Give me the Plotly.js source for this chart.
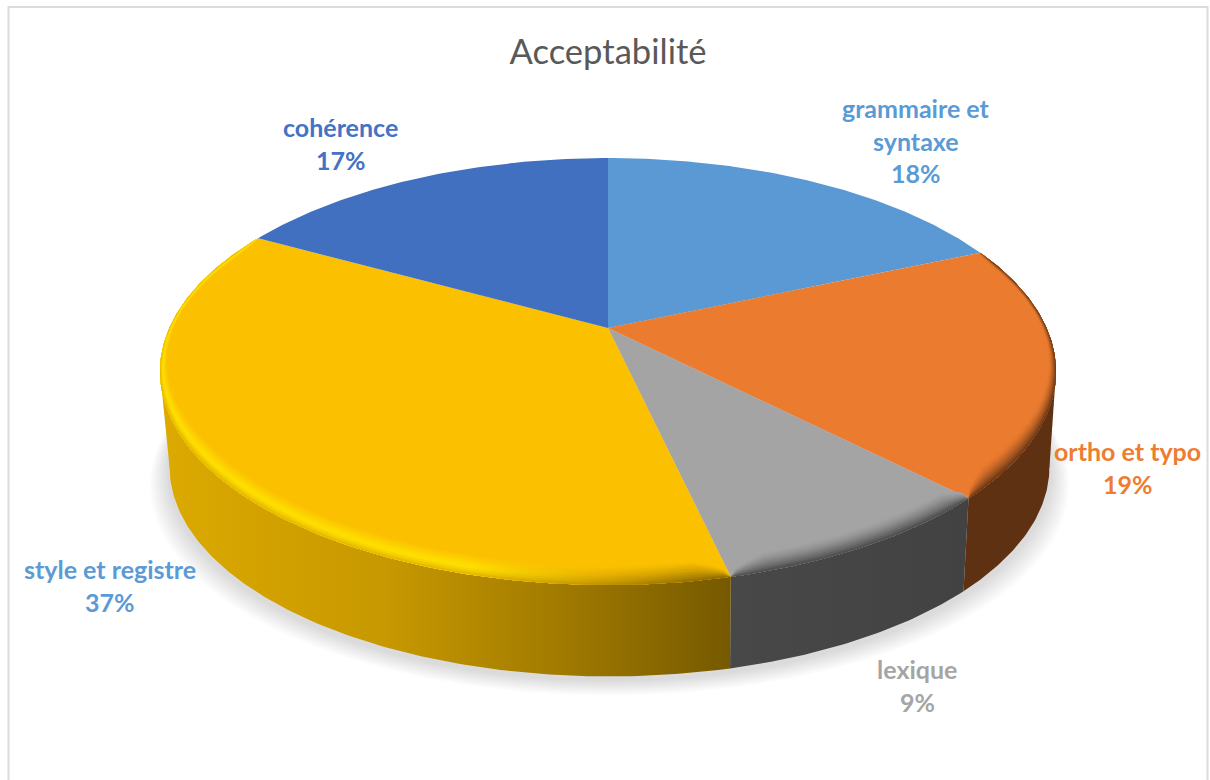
<!DOCTYPE html>
<html><head><meta charset="utf-8">
<script src="https://cdn.plot.ly/plotly-3.0.1.min.js"></script>
<style>html,body{margin:0;padding:0;background:#fff;overflow:hidden}</style></head>
<body><div id="chart" style="width:1210px;height:780px"></div>
<script>
// data
const categories = ["grammaire et syntaxe", "ortho et typo", "lexique", "style et registre", "cohérence"];
const values = [18.49, 19.11, 8.8, 36.6, 17.0];
const faceColors = ["#5A99D4", "#EA7B2F", "#A4A4A4", "#FBC000", "#4270C1"];
const labelColors = ["#5B9BD5", "#ED7D31", "#A5A5A5", "#5B9BD5", "#4472C4"];
const labelLines = [["grammaire et", "syntaxe"], ["ortho et typo"], ["lexique"], ["style et registre"], ["cohérence"]];
const labelX = [916, 1127.5, 917, 109.5, 340.5];
const labelY = [108, 451, 669, 569, 127];
const chartTitle = "Acceptabilité";

// projection of the tilted disc (perspective) onto axis coordinates
const CX = 608, CY = 328, A = 438.6, B = 204.6, K = 0.204;
const DEPTH = 96, SHRINK = 0.982, BOTTOM_DX = 1.5;
function proj(deg, r) {
  const t = deg * Math.PI / 180, u = r * Math.sin(t), v = -r * Math.cos(t), w = 1 - K * v;
  return [A * u / w, B * v / w];
}
function topPt(deg, r = 1) { const p = proj(deg, r); return [CX + p[0], CY + p[1]]; }
function botPt(deg) { const p = proj(deg, 1); return [CX + BOTTOM_DX + SHRINK * p[0], CY + DEPTH + SHRINK * p[1]]; }
function arc(a0, a1, f) { const out = []; const n = Math.max(4, Math.ceil(Math.abs(a1 - a0) * 1.5));
  for (let i = 0; i <= n; i++) out.push(f(a0 + (a1 - a0) * i / n)); return out; }
function poly(pts, extra) {
  return Object.assign({ type: "scatter", mode: "lines", x: pts.map(p => p[0]), y: pts.map(p => p[1]),
    fill: "toself", line: { width: 0 }, hoverinfo: "skip", showlegend: false }, extra);
}
function hex(c) { return [1, 3, 5].map(i => parseInt(c.substr(i, 2), 16)); }
function mix(a, b, t) { const x = hex(a), y = hex(b); return "rgb(" + x.map((v, i) => Math.round(v + (y[i] - v) * t)).join(",") + ")"; }

// slice angles from the values
const total = values.reduce((s, v) => s + v, 0);
const angles = [0];
values.forEach(v => angles.push(angles[angles.length - 1] + v / total * 360));

const traces = [];

// soft ground shadow
for (let g = 20; g >= 1; g -= 1.6) {
  const pts = arc(0, 360, d => { const b = botPt(d); return [b[0] + (b[0] - CX) * g / 450, b[1] + 3 + g * 0.8]; });
  traces.push(poly(pts, { fillcolor: "rgba(120,120,120,0.018)" }));
}

// side walls
const LEFT_TANGENT = 258.2, RIGHT_TANGENT = 101.8;
const wallStops = {
  1: [[0, "#5F3113"], [1, "#5F3113"]],
  2: [[0, "#484848"], [1, "#424242"]],
  3: [[0, "#DCAA00"], [.4, "#C79800"], [.7, "#A27B00"], [1, "#775A00"]]
};
function wall(pts, i, x0, x1) {
  traces.push(poly(pts, { fillcolor: "#444", fillgradient: { type: "horizontal",
    start: x0, stop: x1, colorscale: wallStops[i] } }));
}
// tangent pieces closing the silhouette at the two extremes
wall([topPt(RIGHT_TANGENT), botPt(RIGHT_TANGENT), botPt(RIGHT_TANGENT + 18), topPt(RIGHT_TANGENT + 18)], 1, 900, 1060);
wall([topPt(LEFT_TANGENT), botPt(LEFT_TANGENT), botPt(LEFT_TANGENT - 18), topPt(LEFT_TANGENT - 18)], 3, 160, 727);
[1, 2, 3].forEach(i => {
  const a0 = angles[i], a1 = angles[i + 1];
  const pts = arc(a0, a1, d => topPt(d)).concat(arc(a1, a0, d => botPt(d)));
  const xs = pts.map(p => p[0]);
  wall(pts, i, i === 3 ? 160 : Math.min(...xs), i === 3 ? 727 : Math.max(...xs));
});

// top faces
values.forEach((v, i) => {
  const pts = [[CX, CY]].concat(arc(angles[i], angles[i + 1], d => topPt(d))).concat([[CX, CY]]);
  traces.push(poly(pts, { fillcolor: faceColors[i] }));
});

// rounded bevel along the front rim
const LAYERS = 10;
function bevelBand(i, t) {
  const a0 = angles[i], a1 = angles[i + 1];
  const outer = arc(a0, a1, d => topPt(d));
  const inner = arc(a1, a0, d => {
    const taper = Math.sqrt(Math.min(1, Math.min(d - a0, a1 - d) / 4));
    const p = topPt(d, 1 - 0.016 * t * taper);
    const front = Math.max(0, Math.min(1, (proj(d, 1)[1] + 70) / 200));
    return [p[0], p[1] - 16 * t * front * taper];
  });
  return outer.concat(inner);
}
for (let l = LAYERS; l >= 1; l--) {
  const t = l / LAYERS, s = 1 - t;
  traces.push(poly(bevelBand(1, t), { fillcolor: mix(faceColors[1], "#5F3113", Math.pow(s, 1.5)) }));
  traces.push(poly(bevelBand(2, t), { fillcolor: mix(faceColors[2], "#444444", Math.pow(s, 1.5)) }));
  // yellow: bright highlight on the left, darker to the right
  const hi = s < .55 ? mix(faceColors[3], "#FFDF00", s / .55) : mix("#FFDF00", "#DCAA00", Math.pow((s - .55) / .45, 1.5));
  const mid = mix(faceColors[3], "#B88C00", Math.pow(s, 1.6));
  const dk = mix(faceColors[3], "#775A00", Math.pow(s, 1.2));
  traces.push(poly(bevelBand(3, t), { fillcolor: faceColors[3], fillgradient: { type: "horizontal", start: 160, stop: 727,
    colorscale: [[0, hi], [.55, hi], [.78, mid], [1, dk]] } }));
}

// data labels as real text, percentages rounded from the values
const annotations = [];
labelLines.forEach((lines, i) => {
  const all = lines.concat([Math.round(values[i] / total * 100) + "%"]);
  all.forEach((txt, j) => annotations.push({
    x: labelX[i], y: labelY[i] + j * 32.5, xref: "x", yref: "y", text: txt, showarrow: false,
    xanchor: "center", yanchor: "middle",
    font: { family: "Lato, 'Noto Sans', sans-serif", size: 25, color: labelColors[i], weight: 700 }
  }));
});

const layout = {
  width: 1210, height: 780, autosize: false,
  margin: { l: 0, r: 0, t: 0, b: 0, pad: 0 },
  paper_bgcolor: "#fff", plot_bgcolor: "#fff", showlegend: false,
  title: { text: chartTitle, x: 0.5025, xanchor: "center", y: 0.9335, yanchor: "middle",
    font: { family: "Lato, 'Noto Sans', sans-serif", size: 34.6, color: "#595959" } },
  xaxis: { range: [0, 1210], visible: false, fixedrange: true },
  yaxis: { range: [780, 0], visible: false, fixedrange: true },
  shapes: [{ type: "rect", xref: "x", yref: "y", x0: 8.5, x1: 1207.5, y0: 7, y1: 800,
    line: { color: "#DCDCDC", width: 2 }, fillcolor: "rgba(0,0,0,0)", layer: "below" }],
  annotations
};
Plotly.newPlot("chart", traces, layout, { displayModeBar: false, staticPlot: true });
</script></body></html>
